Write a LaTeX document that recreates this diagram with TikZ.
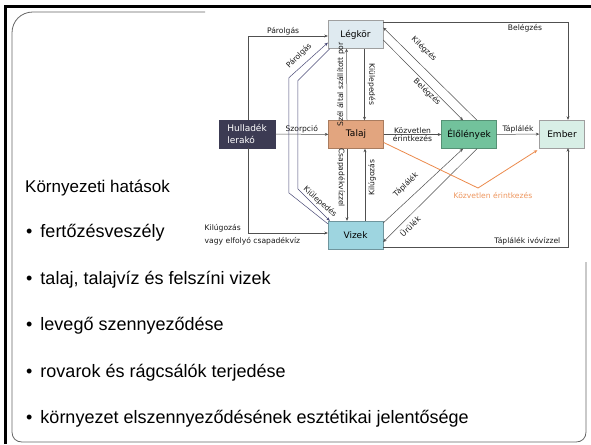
\documentclass[tikz,border=0pt]{standalone}
\usepackage{fontspec}
\setmainfont{Liberation Sans}
\newfontfamily\abrafont{DejaVu Sans}
\usetikzlibrary{positioning,arrows.meta,calc}

\definecolor{nyilszin}{HTML}{505050}
\definecolor{kekes}{HTML}{4C4C78}
\definecolor{narancs}{HTML}{EC8A4C}
\definecolor{legkorszin}{HTML}{DFEAF0}
\definecolor{hulladekszin}{HTML}{3C3B53}
\definecolor{talajszin}{HTML}{E2A57F}
\definecolor{elolszin}{HTML}{72C29C}
\definecolor{emberszin}{HTML}{D8EFE6}
\definecolor{vizekszin}{HTML}{9ED5E0}

\tikzset{
  doboz/.style={draw=gray!75, minimum width=55pt, minimum height=28pt, inner sep=0pt,
    font=\abrafont\fontsize{9}{11}\selectfont, align=center},
  nyil/.style={draw=nyilszin, line width=0.5pt, -{Stealth[length=3.5pt,width=3pt]}},
  felirat/.style={font=\abrafont\fontsize{7.6}{9}\selectfont, text=black!90, inner sep=0.5pt},
  pont/.style={anchor=west, font=\fontsize{18}{20}\selectfont, inner sep=0pt},
}

\begin{document}
\begin{tikzpicture}[x=1pt, y=-1pt]
  \useasboundingbox (0,0) rectangle (591,444);
  \fill[white] (0,0) rectangle (591,444);

  % Keret
  \draw[line width=3pt] (5.5,444) -- (5.5,7) -- (591,7);
  \draw[gray!80!black, line width=0.8pt] (205,12) -- (33,12) .. controls (21,12) and (12,21) .. (12,33)
    -- (12,432) .. controls (12,438) and (16,442) .. (22,442) -- (576,442)
    .. controls (582,442) and (586,438) .. (586,432) -- (586,262);

  % Szoveg
  \node[pont, font=\fontsize{17}{20}\selectfont] (cim) at (25,188) {Környezeti hatások};
  \node[pont] (p1) at (26,233) {•\hspace{8pt}fertőzésveszély};
  \node[pont] (p2) at (26,280) {•\hspace{8pt}talaj, talajvíz és felszíni vizek};
  \node[pont] (p3) at (26,326) {•\hspace{8pt}levegő szennyeződése};
  \node[pont] (p4) at (26,373) {•\hspace{8pt}rovarok és rágcsálók terjedése};
  \node[pont] (p5) at (26,419) {•\hspace{8pt}környezet elszennyeződésének esztétikai jelentősége};

  % Dobozok
  \node[doboz, fill=legkorszin] (legkor) at (355.5,34.5) {Légkör};
  \node[doboz, fill=hulladekszin, draw=hulladekszin, text=white, minimum width=56pt,
    align=left, font=\abrafont\fontsize{9}{11.5}\selectfont] (hulladek) at (247,134) {Hulladék\\lerakó};
  \node[doboz, fill=talajszin, draw=talajszin!75!black] (talaj) at (356,134.5) {Talaj};
  \node[doboz, fill=elolszin, draw=elolszin!75!black] (elol) at (469,134.5) {Élőlények};
  \node[doboz, fill=emberszin, minimum width=45pt] (ember) at (562,134) {Ember};
  \node[doboz, fill=vizekszin, draw=vizekszin!70!black] (vizek) at (355.5,235) {Vizek};

  % Nyilak
  \draw[nyil] ([xshift=1pt]hulladek.north) |- ([yshift=-1.5pt]legkor.west)
    node[felirat, pos=0.72, above] {Párolgás};
  \draw[nyil] ([xshift=1pt]hulladek.south) |- ([yshift=2pt]vizek.west);
  \node[felirat, anchor=west] (kil) at (204,228) {Kilúgozás};
  \node[felirat, anchor=west] (elf) at (204,241) {vagy elfolyó csapadékvíz};
  \draw[nyil] (hulladek) -- (talaj) node[felirat, midway, above] {Szorpció};

  \draw[nyil, draw=kekes] ([yshift=-3pt]vizek.north west) -- ++(-39,-31) -- ++(0,-115)
    -- ([yshift=6pt]legkor.south west);
  \draw[nyil, draw=kekes] ([xshift=2pt]legkor.south west) -- ++(-32,32) -- ++(0,108)
    -- ([xshift=2pt]vizek.north west);
  \node[felirat, rotate=45] at (299,56) {Párolgás};
  \node[felirat, rotate=-42] at (320,202) {Kiülepedés};

  \draw[nyil] ([xshift=-9pt]talaj.north) -- ([xshift=-9pt]legkor.south)
    node[felirat, midway, xshift=-6pt, rotate=90] {Szél által szállított por};
  \draw[nyil] ([xshift=9pt]legkor.south) -- ([xshift=8.5pt]talaj.north)
    node[felirat, midway, xshift=7pt, rotate=-90] {Kiülepedés};
  \draw[nyil] ([xshift=-9pt]talaj.south) -- ([xshift=-8.5pt]vizek.north)
    node[felirat, pos=0.4, xshift=-6pt, rotate=-90] {Csapadékvízzel};
  \draw[nyil] ([xshift=9.5pt]vizek.north) -- ([xshift=9pt]talaj.south)
    node[felirat, pos=0.6, xshift=7pt, rotate=90] {Kilúgozás};

  \draw[nyil] (talaj) -- (elol)
    node[felirat, midway, above] {Közvetlen}
    node[felirat, midway, below] {érintkezés};
  \draw[nyil] (elol) -- (ember) node[felirat, midway, above] {Táplálék};

  \draw[nyil] ([yshift=-2pt]legkor.north east) -| ([xshift=6pt]ember.north);
  \node[felirat] at (525,28) {Belégzés};
  \draw[nyil] ([yshift=2pt]vizek.south east) -| ([xshift=6pt]ember.south);
  \node[felirat, anchor=east] at (561,241) {Táplálék ivóvízzel};

  \draw[nyil] ([xshift=8pt]elol.north) -- ([yshift=7pt]legkor.east);
  \draw[nyil] ([yshift=-5.5pt]legkor.east) -- ([xshift=-6pt]elol.north);
  \node[felirat, rotate=-44] at (424,49) {Kilégzés};
  \node[felirat, rotate=-44] at (427,92) {Belégzés};

  \draw[nyil] ([yshift=12pt]vizek.east) -- ([xshift=-6pt]elol.south);
  \draw[nyil] ([xshift=8pt]elol.south) -- ([yshift=-7pt]vizek.east);
  \node[felirat, rotate=44] at (406,185) {Táplálék};
  \node[felirat, rotate=44] at (410,226) {Ürülék};

  % Kozvetlen erintkezes
  \draw[nyil, draw=narancs, line width=0.8pt] ([yshift=-8pt]talaj.east) -- (478,188)
    -- ([xshift=-2pt, yshift=-2pt]ember.south west);
  \node[felirat, text=narancs!90!white] at (493,196) {Közvetlen érintkezés};
\end{tikzpicture}
\end{document}
